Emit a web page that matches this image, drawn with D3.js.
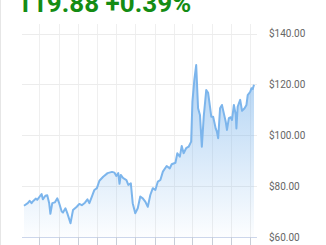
<!DOCTYPE html>
<html>
  <head>
    <meta charset="utf-8">
    <script src="https://cdn.jsdelivr.net/npm/d3@7"></script>
    <style>
        body { margin:0; background:#fff; overflow:hidden; }
        svg { display:block; }
    </style>
  </head>
  <body>
    <script>
      // price readings, day offset from the first point
      var startDate = "2023-06-07";
      var days = [0, 6, 9, 12, 14, 19, 21, 28, 30, 34, 37, 40, 42, 45, 49, 53, 56, 60, 62, 66,
                  69, 74, 78, 84, 88, 92, 97, 101, 104, 108, 112, 116, 120, 126, 133, 140, 144, 147, 150, 152,
                  154, 158, 163, 166, 170, 173, 177, 181, 185, 189, 193, 197, 201, 205, 209, 213, 217, 221, 227, 232,
                  235, 241, 244, 248, 251, 254, 258, 262, 266, 268, 271, 274, 277, 280, 283, 286, 290, 293, 296, 298,
                  301, 305, 307, 309, 312, 315, 318, 321, 323, 326, 329, 331, 334, 337, 338, 340, 344, 347, 351, 354,
                  356, 360, 362, 364, 366];
      var prices = [72.3, 73.3, 74.2, 73.3, 74.0, 75.1, 74.6, 76.9, 74.8, 76.2, 76.4, 73.4, 69.1, 73.3, 73.6, 75.2, 73.3, 70.0, 69.6, 71.3,
                    69.3, 65.4, 70.6, 71.9, 73.0, 72.5, 73.5, 74.8, 73.3, 75.9, 78.5, 79.2, 82.1, 83.7, 85.1, 85.6, 85.3, 84.0, 85.1, 80.9,
                    84.4, 83.1, 82.4, 80.5, 81.1, 73.3, 69.3, 71.3, 75.9, 75.2, 73.9, 71.9, 76.5, 79.2, 78.5, 81.8, 82.4, 85.7, 87.9, 87.0,
                    88.6, 89.2, 92.9, 91.6, 95.8, 92.9, 94.9, 95.5, 97.5, 113.2, 121.7, 127.6, 110.6, 108.0, 95.5, 107.3, 117.8, 116.7, 111.2, 107.3,
                    107.3, 102.7, 101.4, 98.8, 110.6, 111.9, 108.6, 105.3, 102.1, 106.7, 107.1, 106.0, 111.9, 108.0, 102.7, 111.2, 113.9, 109.6, 110.6, 111.9,
                    115.8, 117.1, 118.5, 118.2, 119.88];
      var yTicks = [60, 80, 100, 120, 140];
      var headline = "119.88 +0.39%";

      var width = 326, height = 245;
      var plotLeft = 24, plotRight = 254, plotTop = 33.5, plotBottom = 237;

      var t0 = d3.timeParse("%Y-%m-%d")(startDate);
      var data = days.map(function(d, i) {
          return { date: d3.timeDay.offset(t0, d), price: prices[i] };
      });

      var x = d3.scaleTime()
          .domain(d3.extent(data, function(d) { return d.date; }))
          .range([plotLeft, plotRight]);
      var y = d3.scaleLinear().domain([60, 140]).range([plotBottom, plotTop]);

      var svg = d3.select("body").append("svg")
          .attr("width", width).attr("height", height);

      var grad = svg.append("defs").append("linearGradient")
          .attr("id", "fillGrad")
          .attr("gradientUnits", "userSpaceOnUse")
          .attr("x1", 0).attr("x2", 0)
          .attr("y1", y(128)).attr("y2", plotBottom);
      grad.append("stop").attr("offset", "0%").attr("stop-color", "#7cb5ec").attr("stop-opacity", 0.62);
      grad.append("stop").attr("offset", "100%").attr("stop-color", "#7cb5ec").attr("stop-opacity", 0.02);

      // card edge
      svg.append("line")
          .attr("x1", 0.5).attr("x2", 0.5).attr("y1", 0).attr("y2", height)
          .attr("stroke", "#e6e6e6");

      // vertical grid
      var months = x.ticks(d3.timeMonth.every(1));
      svg.append("g").selectAll("line")
          .data(months).enter().append("line")
          .attr("x1", function(d) { return Math.round(x(d)) + 0.5; })
          .attr("x2", function(d) { return Math.round(x(d)) + 0.5; })
          .attr("y1", 24).attr("y2", plotBottom)
          .attr("stroke", "#efefef");

      // horizontal grid
      svg.append("g").selectAll("line")
          .data(yTicks.slice(1)).enter().append("line")
          .attr("x1", 22).attr("x2", 257)
          .attr("y1", function(d) { return Math.round(y(d)) + 0.5; })
          .attr("y2", function(d) { return Math.round(y(d)) + 0.5; })
          .attr("stroke", "#ececec");

      var area = d3.area()
          .x(function(d) { return x(d.date); })
          .y0(plotBottom)
          .y1(function(d) { return y(d.price); });
      var line = d3.line()
          .x(function(d) { return x(d.date); })
          .y(function(d) { return y(d.price); });

      svg.append("path").datum(data)
          .attr("d", area)
          .attr("fill", "url(#fillGrad)");
      svg.append("path").datum(data)
          .attr("d", line)
          .attr("fill", "none")
          .attr("stroke", "#7cb5ec")
          .attr("stroke-width", 2)
          .attr("stroke-linejoin", "round");

      // bottom axis + ticks
      svg.append("line")
          .attr("x1", 22).attr("x2", 257)
          .attr("y1", plotBottom + 0.5).attr("y2", plotBottom + 0.5)
          .attr("stroke", "#ccd6eb");
      svg.append("g").selectAll("line")
          .data(months).enter().append("line")
          .attr("x1", function(d) { return Math.round(x(d)) + 0.5; })
          .attr("x2", function(d) { return Math.round(x(d)) + 0.5; })
          .attr("y1", plotBottom).attr("y2", height)
          .attr("stroke", "#c8ced8");

      // right price labels
      svg.append("g").selectAll("text")
          .data(yTicks).enter().append("text")
          .attr("x", 269)
          .attr("y", function(d) { return y(d) + 3.5; })
          .attr("font-family", "Roboto, sans-serif")
          .attr("font-size", 10)
          .attr("fill", "#666")
          .text(function(d) { return "$" + d3.format(".2f")(d); });

      svg.append("text")
          .attr("x", 17)
          .attr("y", 12)
          .attr("font-family", "Roboto, sans-serif")
          .attr("font-weight", "bold")
          .attr("font-size", 26)
          .attr("fill", "#148c14")
          .text(headline);
    </script>
  </body>
</html>
